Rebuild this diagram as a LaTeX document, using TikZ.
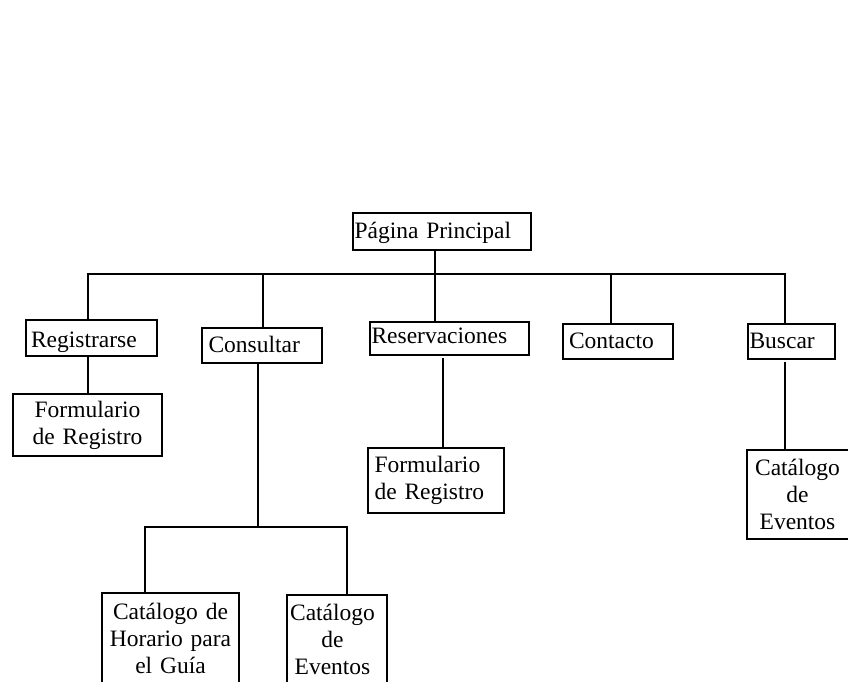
\documentclass[tikz,border=0pt]{standalone}
\usepackage{fontspec}
\setmainfont{Liberation Serif}
\begin{document}
\begin{tikzpicture}[x=1pt,y=-1pt,
  box/.style={draw, line width=2pt, inner ysep=0pt, anchor=center,
    font=\fontsize{23.5}{27}\selectfont},
  lbox/.style={box, align=left, text depth=5pt, text height=18.2pt},
  cbox/.style={box, align=center, inner xsep=2pt},
  link/.style={line width=2pt}]
\useasboundingbox (0,0) rectangle (848,681);
\clip (0,0) rectangle (848,681);

% top level
\node[lbox, inner xsep=1.5pt, text width=175pt, minimum height=37pt] (pp) at (442,231.5) {Página Principal};

% second level
\node[lbox, inner xsep=5pt, text width=121pt, minimum height=36pt, text height=23pt] (reg) at (91.5,338) {Registrarse};
\node[lbox, inner xsep=6.5pt, text width=107pt, minimum height=35pt] (con) at (262,345.5) {Consultar};
\node[lbox, inner xsep=1.5pt, text width=156pt, minimum height=33pt, text height=15.6pt] (res) at (449.5,338.5) {Reservaciones};
\node[lbox, inner xsep=6pt, text width=98pt, minimum height=35pt] (cto) at (618,341.5) {Contacto};
\node[lbox, inner xsep=1.5pt, text width=84pt, minimum height=35pt] (bus) at (791.5,341.5) {Buscar};

% third level
\node[cbox, text width=145pt, minimum height=62pt] (form1) at (87.5,425) {Formulario\\de Registro};
\node[box, align=left, inner xsep=6.5pt, text width=123pt, minimum height=65pt] (form2) at (436,480.5) {Formulario\\de Registro};
\node[cbox, text width=106pt, minimum height=89pt] (catR) at (802,494.5) {\hspace*{-9pt}Catálogo\\\hspace*{-9pt}de\\\hspace*{-9pt}Eventos};

% fourth level
\node[cbox, text width=133pt, minimum height=90pt] (catH) at (170.5,638) {Catálogo de\\Horario para\\el Guía};
\node[cbox, text width=96pt, minimum height=88pt] (catE) at (337,639) {\hspace*{-9pt}Catálogo\\\hspace*{-9pt}de\\\hspace*{-9pt}Eventos};

% junction points
\coordinate (tL) at (88,274);
\coordinate (tR) at (785,274);
\coordinate (hub) at (435,274);
\coordinate (tC) at (263,274);
\coordinate (tK) at (611,274);
\coordinate (split) at (258,527);
\coordinate (sL) at (145,527);
\coordinate (sR) at (347,527);
\coordinate (resDrop) at (443,358);
\coordinate (busDrop) at (785,362);

% connectors
\draw[link] (reg.north -| tL) -- (tL) -- (tR) -- (bus.north -| tR);
\draw[link] (pp.south -| hub) -- (res.north -| hub);
\draw[link] (tC) -- (con.north -| tC);
\draw[link] (tK) -- (cto.north -| tK);
\draw[link] (form1.north |- reg.south) -- (form1.north);
\draw[link] (con.south -| split) -- (split);
\draw[link] (catH.north -| sL) -- (sL) -- (sR) -- (catE.north -| sR);
\draw[link] (resDrop) -- (form2.north -| resDrop);
\draw[link] (busDrop) -- (catR.north -| busDrop);
\end{tikzpicture}
\end{document}
